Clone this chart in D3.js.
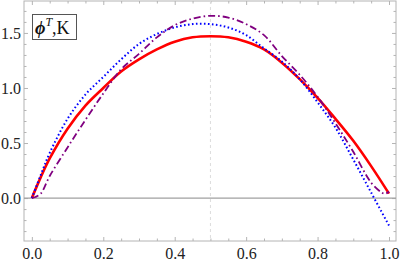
<!DOCTYPE html>
<html>
<head>
<meta charset="utf-8">
<script src="https://cdn.jsdelivr.net/npm/d3@7"></script>
<style>
  body { margin: 0; background: #fff; }
  svg { display: block; }
  .tick text { font-family: "Liberation Serif", "DejaVu Serif", serif; font-size: 16px; fill: #222; }
</style>
</head>
<body>
<svg id="chart" width="401" height="262"></svg>
<script>
// sample positions along x
var xs = [0, 0.025, 0.05, 0.1, 0.15, 0.2, 0.25, 0.3, 0.35, 0.4, 0.45, 0.5,
          0.55, 0.6, 0.65, 0.7, 0.75, 0.8, 0.85, 0.9, 0.95, 1.0];
// red solid
var redVals = [0, 0.19, 0.36, 0.63, 0.84, 1.0, 1.15, 1.26, 1.35, 1.42, 1.46, 1.47,
               1.46, 1.42, 1.35, 1.23, 1.08, 0.91, 0.72, 0.52, 0.29, 0.04];
// blue dotted
var blueVals = [0, 0.21, 0.41, 0.72, 0.94, 1.10, 1.26, 1.40, 1.49, 1.55, 1.58, 1.58,
                1.55, 1.48, 1.36, 1.24, 1.08, 0.87, 0.64, 0.35, 0.05, -0.25];
// purple dot-dashed (own sample points, curls near ends)
var purpleX = [0, 0.01, 0.025, 0.05, 0.1, 0.15, 0.2, 0.25, 0.3, 0.35, 0.4, 0.45, 0.5,
               0.55, 0.6, 0.65, 0.7, 0.75, 0.8, 0.85, 0.9, 0.95, 0.98, 0.99, 1.0];
var purpleVals = [0, 0.01, 0.04, 0.2, 0.46, 0.71, 0.95, 1.17, 1.31, 1.46, 1.57, 1.63, 1.655,
                  1.64, 1.58, 1.48, 1.29, 1.12, 0.92, 0.68, 0.42, 0.14, 0.05, 0.04, 0.06];

var xMajor = [0, 0.2, 0.4, 0.6, 0.8, 1.0];
var yMajor = [0, 0.5, 1.0, 1.5];

var svg = d3.select("#chart");
var mLeft = 24, mRight = 396, mTop = 1, mBottom = 241;

var x = d3.scaleLinear().domain([-0.022, 1.0196]).range([mLeft, mRight]);
var y = d3.scaleLinear().domain([-0.39, 1.79]).range([mBottom, mTop]);

var frameColor = "#b4b4b4";

// minor tick values
var xMinor = d3.range(0, 21).map(function(i){ return Math.round(i * 5) / 100; })
  .filter(function(v){ return xMajor.indexOf(v) < 0; });
var yMinor = d3.range(-3, 18).map(function(i){ return Math.round(i * 10) / 100; })
  .filter(function(v){ return yMajor.indexOf(v) < 0; });

// frame
svg.append("rect")
  .attr("x", mLeft).attr("y", mTop)
  .attr("width", mRight - mLeft).attr("height", mBottom - mTop)
  .attr("fill", "none").attr("stroke", frameColor).attr("stroke-width", 1);

function ticks(g, axis){
  g.call(axis);
  g.select(".domain").remove();
  g.selectAll(".tick line").attr("stroke", frameColor);
}

// bottom
ticks(svg.append("g").attr("transform", "translate(0," + mBottom + ")"),
  d3.axisBottom(x).tickValues(xMajor).tickSize(-4).tickPadding(7).tickFormat(d3.format(".1f")));
ticks(svg.append("g").attr("transform", "translate(0," + mBottom + ")"),
  d3.axisBottom(x).tickValues(xMinor).tickSize(-2.5).tickFormat(""));
// top
ticks(svg.append("g").attr("transform", "translate(0," + mTop + ")"),
  d3.axisTop(x).tickValues(xMajor).tickSize(-4).tickFormat(""));
ticks(svg.append("g").attr("transform", "translate(0," + mTop + ")"),
  d3.axisTop(x).tickValues(xMinor).tickSize(-2.5).tickFormat(""));
// left
ticks(svg.append("g").attr("transform", "translate(" + mLeft + ",0)"),
  d3.axisLeft(y).tickValues(yMajor).tickSize(-4).tickPadding(3).tickFormat(d3.format(".1f")));
ticks(svg.append("g").attr("transform", "translate(" + mLeft + ",0)"),
  d3.axisLeft(y).tickValues(yMinor).tickSize(-2.5).tickFormat(""));
// right
ticks(svg.append("g").attr("transform", "translate(" + mRight + ",0)"),
  d3.axisRight(y).tickValues(yMajor).tickSize(-4).tickFormat(""));
ticks(svg.append("g").attr("transform", "translate(" + mRight + ",0)"),
  d3.axisRight(y).tickValues(yMinor).tickSize(-2.5).tickFormat(""));

// vertical dashed at 0.5
svg.append("line")
  .attr("x1", x(0.5)).attr("x2", x(0.5))
  .attr("y1", mTop).attr("y2", mBottom)
  .attr("stroke", "#dcdcdc").attr("stroke-width", 1).attr("stroke-dasharray", "3,3");

// zero line
svg.append("line")
  .attr("x1", mLeft).attr("x2", mRight)
  .attr("y1", y(0)).attr("y2", y(0))
  .attr("stroke", "#a0a0a0").attr("stroke-width", 1.3);

var line = d3.line()
  .x(function(d){ return x(d[0]); })
  .y(function(d){ return y(d[1]); })
  .curve(d3.curveCatmullRom.alpha(0.5));

var plot = svg.append("g");

plot.append("path")
  .datum(xs.map(function(v, i){ return [v, redVals[i]]; }))
  .attr("d", line).attr("fill", "none")
  .attr("stroke", "#ff0000").attr("stroke-width", 2.6);

plot.append("path")
  .datum(xs.map(function(v, i){ return [v, blueVals[i]]; }))
  .attr("d", line).attr("fill", "none")
  .attr("stroke", "#0000ff").attr("stroke-width", 2)
  .attr("stroke-dasharray", "1.6,2.4");

plot.append("path")
  .datum(purpleX.map(function(v, i){ return [v, purpleVals[i]]; }))
  .attr("d", line).attr("fill", "none")
  .attr("stroke", "#800080").attr("stroke-width", 1.8)
  .attr("stroke-dasharray", "7,3,1.6,3");

// label box
var lab = svg.append("g");
lab.append("rect")
  .attr("x", 32.5).attr("y", 14.5).attr("width", 44).attr("height", 25)
  .attr("fill", "#fff").attr("stroke", "#555").attr("stroke-width", 1);
var t = lab.append("text")
  .attr("x", 35).attr("y", 34)
  .attr("font-family", "Liberation Serif, DejaVu Serif, serif")
  .attr("font-size", 18).attr("fill", "#111");
t.append("tspan").attr("font-style", "italic").attr("font-weight", "bold").text("\u03d5");
t.append("tspan").attr("font-style", "italic").attr("font-size", 12).attr("dy", -8).text("T");
t.append("tspan").attr("dy", 8).text(",K");
</script>
</body>
</html>
